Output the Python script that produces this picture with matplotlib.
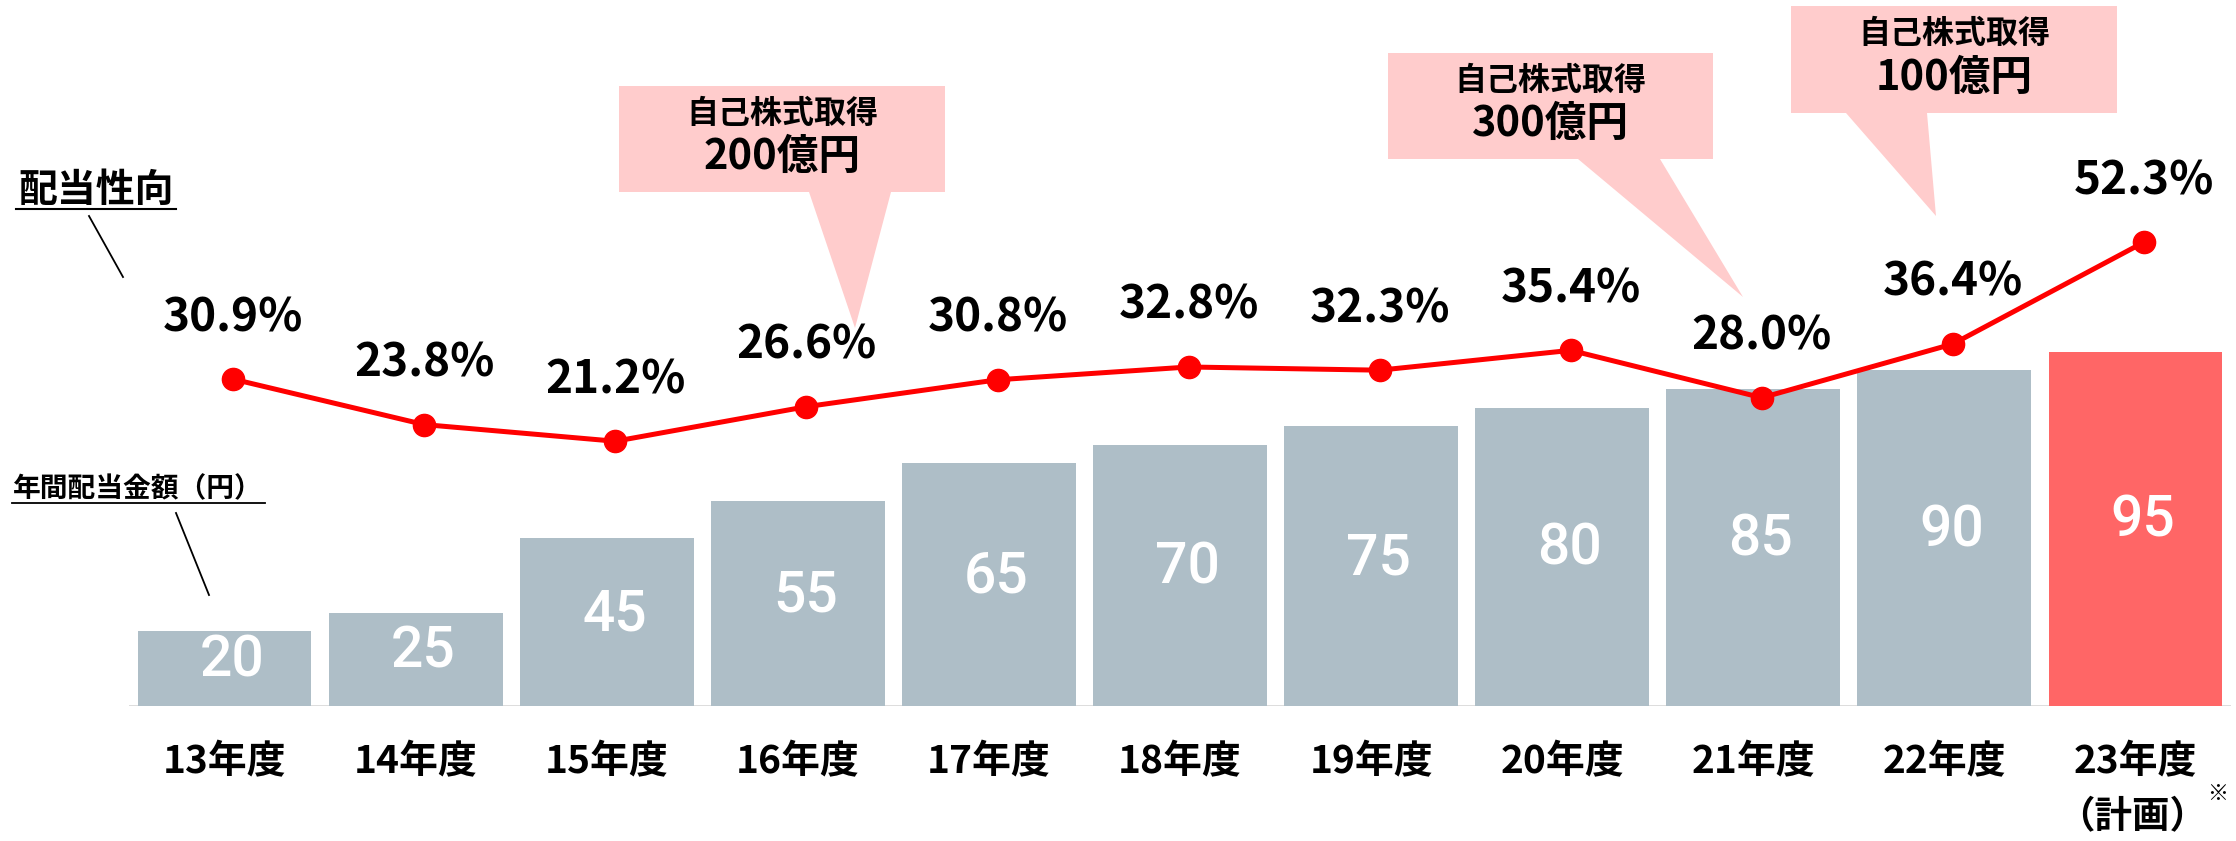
import matplotlib.pyplot as plt
from matplotlib.patches import Polygon
from matplotlib.lines import Line2D

plt.rcParams['font.family'] = ['Noto Sans CJK JP', 'DejaVu Sans']

years = ['13年度', '14年度', '15年度', '16年度', '17年度', '18年度',
         '19年度', '20年度', '21年度', '22年度', '23年度']
dividends = [20, 25, 45, 55, 65, 70, 75, 80, 85, 90, 95]
payout = [30.9, 23.8, 21.2, 26.6, 30.8, 32.8, 32.3, 35.4, 28.0, 36.4, 52.3]
plan_note = '（計画）'
buyback_labels = ['200億円', '300億円', '100億円']

GRAY = '#AEBEC7'
RED_BAR = '#FF6666'
RED_LINE = '#FF0000'
PINK = '#FFCCCC'

W, H = 2236, 841
fig = plt.figure(figsize=(W / 100, H / 100), dpi=100)


def fx(px):
    return px / W


def fy(py):
    return 1 - py / H


# bar axes: baseline at y=706 px, 3.73 px per yen
ax = fig.add_axes([fx(129), fy(706), fx(2231) - fx(129), (706 - 109) / H])
ax.set_xlim(-0.5, 10.5)
ax.set_ylim(0, 160)
x = list(range(len(years)))
colors = [GRAY] * (len(years) - 1) + [RED_BAR]
ax.bar(x, dividends, width=0.91, color=colors, zorder=2)
for xi, v in zip(x, dividends):
    ax.text(xi + 0.04, v / 2 + 2, str(v), ha='center', va='center',
            color='white', fontsize=41, family=['Roboto', 'DejaVu Sans'],
            fontweight='medium', zorder=3)
ax.axhline(0, color='#D9D9D9', lw=2, zorder=1)
for s in ax.spines.values():
    s.set_visible(False)
ax.set_yticks([])
ax.set_xticks(x)
ax.set_xticklabels(years, fontsize=28, fontweight='bold')
ax.tick_params(axis='x', length=0, pad=26)
ax.text(9.98, -0.185, plan_note, transform=ax.get_xaxis_transform(),
        ha='center', va='center', fontsize=27, fontweight='bold')
ax.text(10.43, -0.148, '※', transform=ax.get_xaxis_transform(),
        ha='center', va='center', fontsize=15)

# payout ratio on its own scale, 6.4 px per percent
ax2 = ax.twinx()
ax2.set_ylim(-20.16, 73.1)
ax2.set_yticks([])
for s in ax2.spines.values():
    s.set_visible(False)
xl = [xi + 0.045 for xi in x]
ax2.plot(xl, payout, color=RED_LINE, lw=3.6, marker='o', markersize=16,
         zorder=4)
for xi, v in zip(xl, payout):
    ax2.annotate(f'{v:.1f}%', (xi, v), xytext=(0, 44), textcoords='offset points',
                 ha='center', va='center', fontsize=33, fontweight='bold')

# share buyback callouts (box corners and pointer tip in px)
callouts = [
    ((619, 86, 945, 192), (809, 891), (855, 328), buyback_labels[0]),
    ((1388, 53, 1713, 159), (1578, 1660), (1743, 297), buyback_labels[1]),
    ((1791, 6, 2117, 113), (1846, 1927), (1936, 216), buyback_labels[2]),
]
for (x0, y0, x1, y1), (b0, b1), (tx, ty), amount in callouts:
    pts = [(x0, y0), (x1, y0), (x1, y1), (b1, y1), (tx, ty), (b0, y1), (x0, y1)]
    fig.patches.append(Polygon([(fx(a), fy(b)) for a, b in pts], closed=True,
                               transform=fig.transFigure, facecolor=PINK,
                               edgecolor='none', zorder=5))
    cx = (x0 + x1) / 2
    h = y1 - y0
    fig.text(fx(cx), fy(y0 + h * 0.26), '自己株式取得', ha='center', va='center',
             fontsize=23, fontweight='bold', zorder=6)
    fig.text(fx(cx), fy(y0 + h * 0.67), amount, ha='center', va='center',
             fontsize=30, fontweight='bold', zorder=6)

# series captions with underline and leader line
fig.text(fx(96), fy(190), '配当性向', ha='center', va='center',
         fontsize=28, fontweight='bold')
fig.lines.append(Line2D([fx(16), fx(176)], [fy(209), fy(209)], color='black',
                        lw=1.5, transform=fig.transFigure))
fig.lines.append(Line2D([fx(89), fx(123)], [fy(216), fy(277)], color='black',
                        lw=1.3, transform=fig.transFigure))

fig.text(fx(138), fy(489), '年間配当金額（円）', ha='center', va='center',
         fontsize=20, fontweight='bold')
fig.lines.append(Line2D([fx(12), fx(265)], [fy(503), fy(503)], color='black',
                        lw=1.3, transform=fig.transFigure))
fig.lines.append(Line2D([fx(176), fx(209)], [fy(513), fy(595)], color='black',
                        lw=1.3, transform=fig.transFigure))

fig.savefig('out.png', dpi=100)
